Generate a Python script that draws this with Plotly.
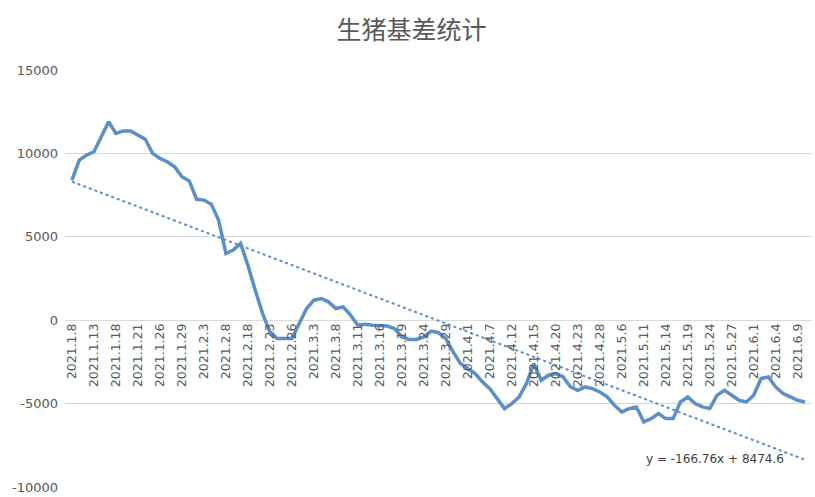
import plotly.graph_objects as go

dates = [
    "1.8", "1.11", "1.12", "1.13", "1.14", "1.15", "1.18", "1.19", "1.20", "1.21",
    "1.22", "1.25", "1.26", "1.27", "1.28", "1.29", "2.1", "2.2", "2.3", "2.4",
    "2.5", "2.8", "2.9", "2.10", "2.18", "2.19", "2.22", "2.23", "2.24", "2.25",
    "2.26", "3.1", "3.2", "3.3", "3.4", "3.5", "3.8", "3.9", "3.10", "3.11",
    "3.12", "3.15", "3.16", "3.17", "3.18", "3.19", "3.22", "3.23", "3.24", "3.25",
    "3.26", "3.29", "3.30", "3.31", "4.1", "4.2", "4.6", "4.7", "4.8", "4.9",
    "4.12", "4.13", "4.14", "4.15", "4.16", "4.19", "4.20", "4.21", "4.22", "4.23",
    "4.26", "4.27", "4.28", "4.29", "4.30", "5.6", "5.7", "5.10", "5.11", "5.12",
    "5.13", "5.14", "5.17", "5.18", "5.19", "5.20", "5.21", "5.24", "5.25", "5.26",
    "5.27", "5.28", "5.31", "6.1", "6.2", "6.3", "6.4", "6.7", "6.8", "6.9",
    "6.10",
]
categories = ["2021." + d for d in dates]

basis = [
    8400, 9600, 9900, 10100, 11000, 11900, 11200, 11350, 11350, 11100,
    10850, 10000, 9700, 9500, 9200, 8600, 8350, 7250, 7200, 6950,
    6000, 4000, 4200, 4600, 3300, 1800, 400, -700, -1100, -1100,
    -1100, -200, 700, 1200, 1300, 1100, 700, 800, 300, -300,
    -250, -300, -300, -350, -500, -1000, -1150, -1150, -1000, -650,
    -750, -1100, -1900, -2600, -2900, -3200, -3700, -4100, -4700, -5300,
    -5000, -4600, -3800, -2600, -3600, -3300, -3200, -3400, -4000, -4200,
    -4000, -4100, -4300, -4600, -5100, -5500, -5300, -5200, -6100, -5900,
    -5600, -5900, -5900, -4900, -4600, -5000, -5200, -5300, -4500, -4200,
    -4500, -4800, -4900, -4500, -3500, -3400, -4000, -4400, -4600, -4800,
    -4900,
]

trend_slope = -166.76
trend_intercept = 8474.6
trend_label = "y = -166.76x + 8474.6"
y_ticks = [-10000, -5000, 0, 5000, 10000, 15000]
y_tick_text = ["-10000", "-5000", "0", "5000", "10000", "15000"]
title_text = "生猪基差统计"

idx = list(range(len(basis)))
trend = [trend_slope * (i + 1) + trend_intercept for i in idx]
tick_idx = idx[::3]
tick_txt = categories[::3]

line_color = "#5b8fc9"
grey = "#595959"
num_font = "DejaVu Sans"

fig = go.Figure()
fig.add_trace(go.Scatter(x=idx, y=basis, mode="lines",
                         line=dict(color=line_color, width=3.5), showlegend=False))
fig.add_trace(go.Scatter(x=idx, y=trend, mode="lines",
                         line=dict(color=line_color, width=2, dash="dot"), showlegend=False))

fig.add_annotation(x=87.7, y=-8300, text=trend_label, showarrow=False,
                   font=dict(size=12, color="#404040", family=num_font),
                   xanchor="center", yanchor="middle")

fig.update_layout(
    width=815, height=497,
    margin=dict(l=65, r=3, t=70, b=10),
    paper_bgcolor="white", plot_bgcolor="white",
    title=dict(text=title_text, x=0.505, xanchor="center", y=0.94, yanchor="middle",
               font=dict(size=25, color=grey, family="Noto Sans CJK SC")),
    xaxis=dict(range=[-0.95, 100.95], tickmode="array", tickvals=tick_idx, ticktext=tick_txt,
               tickangle=-90, anchor="free", position=(487 - 320) / 417,
               showgrid=False, zeroline=False, showline=False, ticks="",
               tickfont=dict(size=12.5, color=grey, family=num_font)),
    yaxis=dict(range=[-10000, 15000], tickmode="array", tickvals=y_ticks, ticktext=y_tick_text,
               showgrid=True, gridcolor="#d9d9d9", gridwidth=1, zeroline=False,
               showline=False, ticks="", ticklabelstandoff=6,
               tickfont=dict(size=13, color=grey, family=num_font)),
)

fig.write_html("out.html")
